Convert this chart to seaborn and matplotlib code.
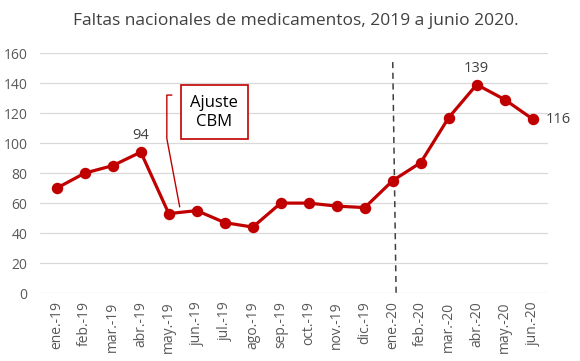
import matplotlib
matplotlib.use("Agg")
import matplotlib.pyplot as plt
import seaborn as sns
import pandas as pd

# Data
months = ["ene.-19", "feb.-19", "mar.-19", "abr.-19", "may.-19", "jun.-19",
          "jul.-19", "ago.-19", "sep.-19", "oct.-19", "nov.-19", "dic.-19",
          "ene.-20", "feb.-20", "mar.-20", "abr.-20", "may.-20", "jun.-20"]
faltas = [70, 80, 85, 94, 53, 55, 47, 44, 60, 60, 58, 57,
          75, 87, 117, 139, 129, 116]
labelled = {"abr.-19": 94, "abr.-20": 139, "jun.-20": 116}

df = pd.DataFrame({"mes": months, "faltas": faltas})

sns.set_style("white")
plt.rcParams["font.family"] = ["Open Sans", "DejaVu Sans"]

red = "#C00000"
gray = "#595959"

fig = plt.figure(figsize=(5.8, 3.61), dpi=100)
ax = fig.add_axes([0.069, 0.188, 0.876, 0.665])

sns.pointplot(data=df, x="mes", y="faltas", color=red, markers="o",
              markersize=6.5, linewidth=2.3, ax=ax, zorder=3)

ax.set_ylim(0, 160)
ax.set_xlim(-0.6, len(months) - 0.45)
ax.set_yticks(range(0, 161, 20))
ax.yaxis.grid(True, color="#D9D9D9", linewidth=0.9)
ax.set_axisbelow(True)
for s in ax.spines.values():
    s.set_visible(False)
ax.set_xlabel("")
ax.set_ylabel("")
ax.tick_params(axis="both", length=0, colors=gray, labelsize=10)
ax.tick_params(axis="y", pad=9)
ax.tick_params(axis="x", rotation=90, pad=6)

# Data labels
for m, v in labelled.items():
    i = months.index(m)
    if m == "jun.-20":
        ax.text(i + 0.45, v, str(v), color="#404040", fontsize=10.5,
                ha="left", va="center")
    else:
        ax.text(i, v + 6, str(v), color="#404040", fontsize=10.5,
                ha="center", va="bottom")

# Dashed separator at start of 2020
sep = months.index("ene.-20")
ax.plot([sep, sep + 0.12], [154, 0], color="#404040", linestyle=(0, (4, 3)),
        linewidth=1.1, zorder=2, clip_on=False)

# Callout "Ajuste CBM"
ax.plot([4.11, 3.93, 3.93, 4.39], [132, 132, 103, 57.5], color=red,
        linewidth=1.0, zorder=2)
ax.text(5.63, 120.5, "Ajuste\nCBM", ha="center", va="center", fontsize=12,
        color="black", linespacing=1.3,
        bbox=dict(boxstyle="square,pad=0.55", facecolor="white",
                  edgecolor=red, linewidth=1.2))

fig.suptitle("Faltas nacionales de medicamentos, 2019 a junio 2020.",
             x=0.51, y=0.965, fontsize=12.5, color="#404040")

fig.savefig("out.png", dpi=100)
